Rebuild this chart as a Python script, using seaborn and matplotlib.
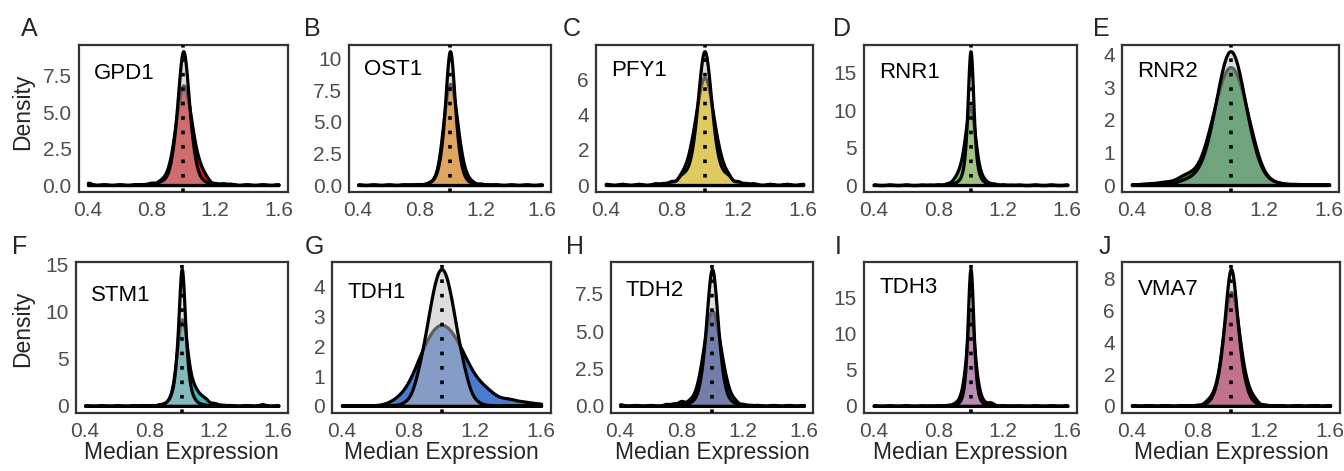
import numpy as np
import seaborn as sns
import matplotlib.pyplot as plt

sns.set_style('white')
plt.rcParams['font.family'] = ['Liberation Sans', 'DejaVu Sans']

grid = [0.4, 0.5, 0.6, 0.7, 0.75, 0.8, 0.85, 0.875, 0.9, 0.925, 0.95, 0.975, 1.0,
        1.025, 1.05, 1.075, 1.1, 1.125, 1.15, 1.2, 1.25, 1.3, 1.4, 1.5, 1.6]

# grey = all cells, gene = the gene's own cells (density read at each grid point)
gpd1_grey = [.08, .02, .02, .03, .05, .12, .2, .3, .6, 1.5, 3.6, 7.2, 11.6, 7.2, 3.6, 1.5, .6, .3, .15, .08, .1, .05, .02, .02, .02]
gpd1_gene = [.06, .02, .02, .03, .06, .15, .25, .45, .9, 1.9, 3.8, 6.0, 7.3, 6.2, 4.4, 2.5, 1.6, .9, .4, .12, .1, .05, .02, .02, .02]
ost1_grey = [.02, .02, .02, .03, .04, .07, .12, .25, .5, 1.3, 3.3, 7.6, 15.5, 7.6, 3.3, 1.3, .5, .25, .12, .1, .04, .03, .02, .02, .02]
ost1_gene = [.02, .02, .02, .03, .04, .07, .12, .25, .5, 1.4, 3.9, 7.0, 8.6, 7.2, 4.5, 2.2, 1.0, .45, .2, .1, .04, .03, .02, .02, .02]
pfy1_grey = [.03, .03, .03, .06, .1, .2, .45, .6, .9, 1.6, 3.5, 6.2, 8.4, 6.2, 3.5, 1.6, .9, .6, .45, .2, .1, .06, .03, .03, .03]
pfy1_gene = [.03, .03, .03, .04, .07, .15, .45, .85, 1.5, 2.6, 4.0, 5.6, 6.4, 5.6, 4.0, 2.6, 1.5, .85, .45, .15, .07, .04, .03, .03, .03]
rnr1_grey = [.02, .02, .02, .02, .02, .05, .1, .15, .3, .6, 1.5, 5.5, 27, 5.5, 1.5, .6, .3, .15, .1, .05, .02, .02, .02, .02, .02]
rnr1_gene = [.02, .02, .02, .02, .03, .05, .15, .3, .9, 1.8, 3.5, 7.5, 11, 6.5, 2.4, 1.0, .45, .2, .15, .05, .02, .02, .02, .02, .02]
rnr2_grey = [.02, .03, .05, .12, .22, .4, .9, 1.4, 2.1, 3.0, 3.9, 4.6, 4.9, 4.6, 3.9, 3.0, 2.1, 1.4, .9, .3, .1, .05, .03, .02, .02]
rnr2_gene = [.02, .05, .1, .25, .35, .5, 1.1, 1.6, 2.25, 2.85, 3.45, 3.85, 3.95, 3.85, 3.45, 2.85, 2.25, 1.6, 1.05, .32, .1, .05, .03, .02, .02]
stm1_grey = [.02, .02, .02, .03, .04, .06, .1, .2, .35, .8, 2.0, 6.5, 18.5, 6.5, 2.0, .8, .35, .2, .1, .06, .04, .03, .02, .06, .02]
stm1_gene = [.02, .02, .02, .02, .03, .05, .1, .15, .3, .7, 2.0, 6.5, 12, 7.5, 3.2, 2.3, 1.5, 1.0, .7, .3, .12, .06, .04, .08, .02]
tdh1_grey = [.02, .02, .02, .02, .04, .21, .85, 1.45, 2.3, 3.2, 4.1, 4.8, 5.0, 4.8, 4.1, 3.2, 2.3, 1.45, .85, .21, .04, .02, .02, .02, .02]
tdh1_gene = [.01, .01, .02, .12, .35, .75, 1.45, 1.85, 2.3, 2.6, 2.9, 3.1, 3.2, 3.1, 2.9, 2.6, 2.3, 1.95, 1.65, 1.1, .7, .44, .27, .15, .08]
tdh2_grey = [.03, .02, .02, .03, .05, .1, .15, .3, .6, 1.5, 3.6, 7.2, 11.0, 7.2, 3.6, 1.5, .6, .3, .15, .08, .05, .03, .02, .02, .02]
tdh2_gene = [.05, .03, .03, .08, .15, .3, .35, .5, 1.2, 2.4, 4.1, 5.8, 6.6, 5.8, 4.1, 2.6, 1.4, .6, .35, .12, .06, .04, .03, .03, .03]
tdh3_grey = [.02, .02, .02, .02, .02, .04, .06, .1, .2, .4, 1.2, 5.5, 30, 5.5, 1.2, .4, .2, .1, .06, .04, .02, .02, .02, .02, .02]
tdh3_gene = [.02, .02, .02, .02, .02, .05, .1, .15, .4, .8, 2.4, 7.0, 16.5, 7.0, 2.4, .8, .4, .6, .1, .05, .02, .02, .02, .02, .02]
vma7_grey = [.02, .02, .02, .02, .03, .06, .15, .3, .85, 1.8, 3.7, 6.9, 10.0, 6.9, 3.7, 1.8, .85, .3, .15, .06, .03, .02, .02, .02, .02]
vma7_gene = [.02, .02, .02, .02, .03, .06, .25, .5, 1.0, 1.9, 4.0, 6.3, 7.5, 6.4, 4.3, 2.3, 1.3, .7, .3, .08, .03, .02, .02, .02, .02]

genes = ['GPD1', 'OST1', 'PFY1', 'RNR1', 'RNR2', 'STM1', 'TDH1', 'TDH2', 'TDH3', 'VMA7']
letters = ['A', 'B', 'C', 'D', 'E', 'F', 'G', 'H', 'I', 'J']
grey_vals = [gpd1_grey, ost1_grey, pfy1_grey, rnr1_grey, rnr2_grey,
             stm1_grey, tdh1_grey, tdh2_grey, tdh3_grey, vma7_grey]
gene_vals = [gpd1_gene, ost1_gene, pfy1_gene, rnr1_gene, rnr2_gene,
             stm1_gene, tdh1_gene, tdh2_gene, tdh3_gene, vma7_gene]
gene_colors = ['#E31A1C', '#FF8C00', '#FFD700', '#80CC40', '#228B3C',
               '#45B8BE', '#4A7BD0', '#283C96', '#B45AA8', '#C8285A']
yticks = [[0, 2.5, 5, 7.5], [0, 2.5, 5, 7.5, 10], [0, 2, 4, 6], [0, 5, 10, 15], [0, 1, 2, 3, 4],
          [0, 5, 10, 15], [0, 1, 2, 3, 4], [0, 2.5, 5, 7.5], [0, 5, 10, 15], [0, 2, 4, 6, 8]]
ylabels = [['0.0', '2.5', '5.0', '7.5'], ['0.0', '2.5', '5.0', '7.5', '10'], ['0', '2', '4', '6'],
           ['0', '5', '10', '15'], ['0', '1', '2', '3', '4'], ['0', '5', '10', '15'],
           ['0', '1', '2', '3', '4'], ['0.0', '2.5', '5.0', '7.5'], ['0', '5', '10', '15'],
           ['0', '2', '4', '6', '8']]
xticks = [0.4, 0.8, 1.2, 1.6]
xlabels = ['0.4', '0.8', '1.2', '1.6']

# kernel widths used for smoothing
bw_grey = [.02, .02, .02, .015, .045, .015, .03, .02, .015, .02]
bw_gene = [.02, .02, .02, .015, .045, .02, .05, .02, .015, .02]

# layout in pixels (left, right, top, bottom)
W, H = 1344, 471
panel_lr = [(78.5, 288), (349, 551), (596, 813), (864, 1077), (1122, 1339),
            (75.5, 288), (332, 551), (611, 813), (864, 1077), (1122, 1340)]
row_tb = [(44.5, 191.7), (262.3, 412.7)]
letter_xy = [(21, 29.5), (304, 29.5), (563, 29.5), (833, 29.5), (1093, 29.5),
             (12, 246.5), (305, 246.5), (566, 246.5), (835, 246.5), (1099, 246.5)]
label_y = [0.80, 0.83, 0.823, 0.81, 0.815, 0.782, 0.80, 0.81, 0.832, 0.821]

fig = plt.figure(figsize=(W / 100, H / 100), dpi=100)
dx = np.gradient(np.array(grid))
x = np.array(grid)


def draw_density(ax, vals, h, **kws):
    w = np.array(vals) * dx
    sd = np.sqrt(np.cov(x, aweights=w))
    sns.kdeplot(x=x, weights=w, bw_method=h / sd, cut=0, gridsize=800,
                fill=True, edgecolor='black', linewidth=2.3, ax=ax, **kws)


for i, gene in enumerate(genes):
    l, r = panel_lr[i]
    t, b = row_tb[i // 5]
    ax = fig.add_axes([l / W, 1 - b / H, (r - l) / W, (b - t) / H])

    draw_density(ax, gene_vals[i], bw_gene[i], color=gene_colors[i], alpha=1)
    draw_density(ax, grey_vals[i], bw_grey[i], color='#BEBEBE', alpha=0.5)
    ax.axvline(1.0, color='black', lw=2.6, linestyle=(0, (1, 3)), zorder=5)

    top = max(c.get_paths()[0].vertices[:, 1].max() for c in ax.collections)
    ax.set_ylim(-0.05 * top, 1.05 * top)
    ax.set_xlim(0.34, 1.66)
    ax.set_xticks(xticks)
    ax.set_xticklabels(xlabels)
    ax.set_yticks(yticks[i])
    ax.set_yticklabels(ylabels[i])
    ax.set_ylabel('')
    ax.set_xlabel('Median Expression' if i >= 5 else '', fontsize=16.5, labelpad=0)
    for s in ax.spines.values():
        s.set_visible(True)
        s.set_color('#333333')
        s.set_linewidth(1.6)
    ax.tick_params(direction='out', length=3, width=1.1, color='#333333',
                   labelcolor='#4D4D4D', labelsize=15)
    ax.tick_params(axis='x', pad=4)
    ax.tick_params(axis='y', pad=2)
    ax.text(0.435, label_y[i], gene, transform=ax.get_xaxis_transform(),
            fontsize=16, ha='left', va='center', color='black')

    lx, ly = letter_xy[i]
    fig.text(lx / W, 1 - ly / H, letters[i], fontsize=18, ha='left', va='center')

fig.text(23 / W, 1 - 112 / H, 'Density', rotation=90, fontsize=16.5, ha='center', va='center')
fig.text(23 / W, 1 - 329 / H, 'Density', rotation=90, fontsize=16.5, ha='center', va='center')

fig.savefig('out.png', dpi=100)
